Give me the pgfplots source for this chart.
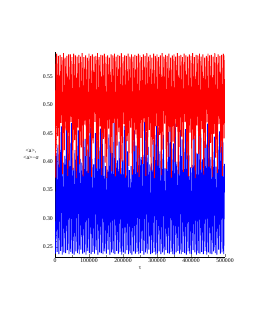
\documentclass[border=0pt]{standalone}
\usepackage{fontspec}
\setmainfont{Liberation Serif}
\usepackage{pgfplots}
\pgfplotsset{compat=1.18}
\begin{document}
\fontsize{5.8}{7}\selectfont
\begin{tikzpicture}
\path (0,0) rectangle (255bp,330bp);
\begin{axis}[
  at={(55bp,73bp)}, anchor=south west,
  scale only axis, width=170bp, height=205bp,
  xmin=0, xmax=500000, ymin=0.232, ymax=0.593,
  axis lines=left, axis line style={-, line width=0.5pt},
  tick align=inside,
  xtick={0,100000,200000,300000,400000,500000},
  ytick={0.25,0.30,0.35,0.40,0.45,0.50,0.55},
  minor x tick num=1, minor y tick num=4,
  major tick length=2.5bp, minor tick length=1.5bp,
  scaled x ticks=false,
  xticklabel style={/pgf/number format/fixed, /pgf/number format/1000 sep={}},
  yticklabel style={/pgf/number format/fixed, /pgf/number format/fixed zerofill, /pgf/number format/precision=2},
  /pgf/number format/assume math mode=true,
  tick label style={font=\fontsize{5.8}{7}\selectfont},
  label style={font=\fontsize{5.8}{7}\selectfont},
  xlabel={τ},
  ylabel={<a>,\\<a>−σ},
  ylabel style={rotate=-90, align=center},
  clip=true,
]
\addplot[blue, line width=0.9pt] coordinates {
(1250,.238)(3750,.415)(6250,.241)(8750,.430)(11250,.237)(13750,.452)(16250,.243)(18750,.462)(21250,.236)(23750,.398)
(26250,.240)(28750,.410)(31250,.239)(33750,.470)(36250,.244)(38750,.445)(41250,.237)(43750,.432)(46250,.241)(48750,.468)
(51250,.238)(53750,.389)(56250,.236)(58750,.420)(61250,.242)(63750,.461)(66250,.239)(68750,.455)(71250,.237)(73750,.405)
(76250,.245)(78750,.398)(81250,.238)(83750,.444)(86250,.240)(88750,.440)(91250,.236)(93750,.421)(96250,.243)(98750,.470)
(101250,.239)(103750,.466)(106250,.237)(108750,.405)(111250,.241)(113750,.395)(116250,.238)(118750,.450)(121250,.244)(123750,.437)
(126250,.236)(128750,.425)(131250,.240)(133750,.458)(136250,.239)(138750,.465)(141250,.237)(143750,.410)(146250,.242)(148750,.392)
(151250,.238)(153750,.386)(156250,.245)(158750,.448)(161250,.236)(163750,.449)(166250,.240)(168750,.415)(171250,.239)(173750,.468)
(176250,.237)(178750,.460)(181250,.243)(183750,.402)(186250,.238)(188750,.435)(191250,.241)(193750,.429)(196250,.236)(198750,.402)
(201250,.240)(203750,.463)(206250,.238)(208750,.458)(211250,.244)(213750,.418)(216250,.237)(218750,.385)(221250,.239)(223750,.392)
(226250,.236)(228750,.442)(231250,.242)(233750,.455)(236250,.238)(238750,.428)(241250,.241)(243750,.435)(246250,.237)(248750,.466)
(251250,.239)(253750,.408)(256250,.243)(258750,.412)(261250,.236)(263750,.470)(266250,.240)(268750,.452)(271250,.238)(273750,.426)
(276250,.245)(278750,.395)(281250,.237)(283750,.397)(286250,.239)(288750,.438)(291250,.241)(293750,.447)(296250,.236)(298750,.463)
(301250,.238)(303750,.460)(306250,.242)(308750,.418)(311250,.237)(313750,.413)(316250,.240)(318750,.447)(321250,.236)(323750,.388)
(326250,.244)(328750,.405)(331250,.239)(333750,.452)(336250,.238)(338750,.469)(341250,.241)(343750,.423)(346250,.237)(348750,.432)
(351250,.236)(353750,.467)(356250,.240)(358750,.400)(361250,.243)(363750,.400)(366250,.238)(368750,.456)(371250,.237)(373750,.439)
(376250,.241)(378750,.423)(381250,.239)(383750,.457)(386250,.236)(388750,.441)(391250,.242)(393750,.411)(396250,.238)(398750,.390)
(401250,.237)(403750,.394)(406250,.244)(408750,.461)(411250,.240)(413750,.448)(416250,.236)(418750,.414)(421250,.239)(423750,.465)
(426250,.238)(428750,.449)(431250,.241)(433750,.404)(436250,.237)(438750,.436)(441250,.243)(443750,.430)(446250,.236)(448750,.467)
(451250,.240)(453750,.462)(456250,.238)(458750,.408)(461250,.237)(463750,.417)(466250,.242)(468750,.444)(471250,.239)(473750,.391)
(476250,.236)(478750,.427)(481250,.245)(483750,.453)(486250,.238)(488750,.459)(491250,.240)(493750,.434)(496250,.237)(498750,.396)
};
\addplot[red, line width=0.9pt] coordinates {
(0,.585)(2500,.372)(5000,.590)(7500,.445)(10000,.586)(12500,.390)(15000,.588)(17500,.468)(20000,.584)(22500,.378)
(25000,.591)(27500,.420)(30000,.583)(32500,.455)(35000,.586)(37500,.375)(40000,.589)(42500,.402)(45000,.589)(47500,.470)
(50000,.584)(52500,.385)(55000,.590)(57500,.438)(60000,.587)(62500,.371)(65000,.585)(67500,.460)(70000,.588)(72500,.395)
(75000,.585)(77500,.425)(80000,.591)(82500,.374)(85000,.584)(87500,.465)(90000,.587)(92500,.410)(95000,.583)(97500,.380)
(100000,.590)(102500,.450)(105000,.586)(107500,.373)(110000,.589)(112500,.432)(115000,.585)(117500,.470)(120000,.586)(122500,.388)
(125000,.591)(127500,.405)(130000,.584)(132500,.462)(135000,.588)(137500,.376)(140000,.587)(142500,.440)(145000,.590)(147500,.398)
(150000,.585)(152500,.371)(155000,.587)(157500,.458)(160000,.583)(162500,.415)(165000,.589)(167500,.383)(170000,.587)(172500,.468)
(175000,.590)(177500,.374)(180000,.585)(182500,.428)(185000,.588)(187500,.452)(190000,.586)(192500,.379)(195000,.591)(197500,.400)
(200000,.584)(202500,.466)(205000,.587)(207500,.372)(210000,.586)(212500,.436)(215000,.590)(217500,.392)(220000,.585)(222500,.460)
(225000,.589)(227500,.377)(230000,.585)(232500,.418)(235000,.588)(237500,.448)(240000,.586)(242500,.381)(245000,.590)(247500,.373)
(250000,.587)(252500,.442)(255000,.584)(257500,.396)(260000,.589)(262500,.469)(265000,.586)(267500,.375)(270000,.591)(272500,.412)
(275000,.585)(277500,.456)(280000,.588)(282500,.384)(285000,.583)(287500,.430)(290000,.590)(292500,.371)(295000,.586)(297500,.463)
(300000,.589)(302500,.393)(305000,.584)(307500,.447)(310000,.587)(312500,.376)(315000,.591)(317500,.421)(320000,.585)(322500,.467)
(325000,.588)(327500,.387)(330000,.586)(332500,.408)(335000,.590)(337500,.453)(340000,.583)(342500,.372)(345000,.587)(347500,.435)
(350000,.589)(352500,.399)(355000,.585)(357500,.461)(360000,.591)(362500,.378)(365000,.586)(367500,.426)(370000,.588)(372500,.444)
(375000,.584)(377500,.382)(380000,.590)(382500,.470)(385000,.587)(387500,.404)(390000,.585)(392500,.374)(395000,.589)(397500,.451)
(400000,.586)(402500,.389)(405000,.591)(407500,.439)(410000,.584)(412500,.371)(415000,.588)(417500,.464)(420000,.587)(422500,.413)
(425000,.590)(427500,.386)(430000,.585)(432500,.457)(435000,.589)(437500,.377)(440000,.583)(442500,.424)(445000,.586)(447500,.469)
(450000,.590)(452500,.391)(455000,.587)(457500,.433)(460000,.588)(462500,.373)(465000,.585)(467500,.449)(470000,.591)(472500,.407)
(475000,.584)(477500,.380)(480000,.589)(482500,.466)(485000,.586)(487500,.416)(490000,.588)(492500,.375)(495000,.590)(497500,.441)
(500000,.587)
};
\end{axis}
\end{tikzpicture}
\end{document}
